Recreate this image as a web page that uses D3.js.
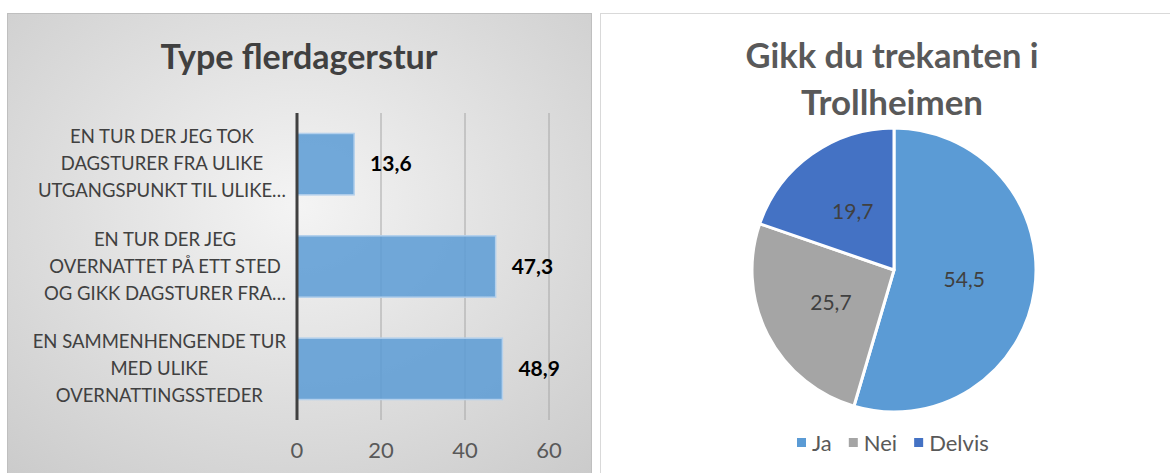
<!DOCTYPE html>
<html>
<head>
<meta charset="utf-8">
<script src="https://cdn.jsdelivr.net/npm/d3@7"></script>
<style>
  body { margin: 0; background: #fff; }
  svg { display: block; font-family: Lato, "Open Sans", sans-serif; }
</style>
</head>
<body>
<div id="chart"></div>
<script>
// bar chart data
const barTitle = 'Type flerdagerstur';
const barCategories = [
    ['EN TUR DER JEG TOK', 'DAGSTURER FRA ULIKE', 'UTGANGSPUNKT TIL ULIKE…'],
    ['EN TUR DER JEG', 'OVERNATTET PÅ ETT STED', 'OG GIKK DAGSTURER FRA…'],
    ['EN SAMMENHENGENDE TUR', 'MED ULIKE', 'OVERNATTINGSSTEDER'],
];
const barValues = [13.6, 47.3, 48.9];
const barTicks = [0, 20, 40, 60];

// pie chart data
const pieTitle = ['Gikk du trekanten i', 'Trollheimen'];
const pieLabels = ['Ja', 'Nei', 'Delvis'];
const pieValues = [54.5, 25.7, 19.7];
const pieColors = ['#5b9bd5', '#a5a5a5', '#4472c4'];

const fmt = v => String(v).replace('.', ',');

let w = 1170, h = 473;
let svg = d3.select('#chart').append('svg')
    .attr('width', w)
    .attr('height', h);

svg.append('rect').attr('width', w).attr('height', h).attr('fill', '#fff');

//#region left panel
let defs = svg.append('defs');
let grad = defs.append('radialGradient')
    .attr('id', 'bg')
    .attr('cx', '50%').attr('cy', '40%').attr('r', '75%');
grad.append('stop').attr('offset', '0%').attr('stop-color', '#f4f4f4');
grad.append('stop').attr('offset', '100%').attr('stop-color', '#cbcbcb');

svg.append('rect')
    .attr('x', 7.5).attr('y', 13.5)
    .attr('width', 584).attr('height', 480)
    .attr('fill', 'url(#bg)')
    .attr('stroke', '#bfbfbf');

svg.append('text')
    .attr('x', 299).attr('y', 69)
    .attr('text-anchor', 'middle')
    .attr('font-size', 34).attr('font-weight', 700)
    .attr('fill', '#404040')
    .attr('textLength', 277).attr('lengthAdjust', 'spacingAndGlyphs')
    .text(barTitle);

const x = d3.scaleLinear().domain([0, 60]).range([297, 549]);
const y = d3.scaleBand()
    .domain(d3.range(barValues.length))
    .range([113, 420])
    .paddingInner(0.4)
    .paddingOuter(0.2);

// gridlines
svg.append('g')
    .selectAll('line')
    .data(barTicks.filter(t => t > 0)).enter()
    .append('line')
    .attr('x1', d => x(d)).attr('x2', d => x(d))
    .attr('y1', 113).attr('y2', 420)
    .attr('stroke', '#a6a6a6')
    .attr('stroke-width', 1);

// bars
svg.append('g')
    .selectAll('rect')
    .data(barValues).enter()
    .append('rect')
    .attr('x', x(0))
    .attr('y', (d, i) => y(i))
    .attr('width', d => x(d) - x(0))
    .attr('height', y.bandwidth())
    .attr('fill', '#5b9bd5')
    .attr('fill-opacity', 0.85)
    .attr('stroke', '#b4d0ec')
    .attr('stroke-width', 1.5);

// axis line at 0
svg.append('line')
    .attr('x1', x(0)).attr('x2', x(0))
    .attr('y1', 113).attr('y2', 420)
    .attr('stroke', '#404040')
    .attr('stroke-width', 3);

// x tick labels
svg.append('g')
    .selectAll('text')
    .data(barTicks).enter()
    .append('text')
    .attr('x', d => x(d))
    .attr('y', 458)
    .attr('text-anchor', 'middle')
    .attr('font-size', 22)
    .attr('fill', '#595959')
    .text(d => d);

// value labels
svg.append('g')
    .selectAll('text')
    .data(barValues).enter()
    .append('text')
    .attr('x', d => x(d) + 16)
    .attr('y', (d, i) => y(i) + y.bandwidth() / 2 + 7)
    .attr('font-size', 21).attr('font-weight', 700)
    .attr('fill', '#000')
    .text(d => fmt(d));

// category labels, lines centred, block right-aligned to the axis
barCategories.forEach((lines, i) => {
    let cy = y(i) + y.bandwidth() / 2;
    let g = svg.append('g');
    let texts = g.selectAll('text')
        .data(lines).enter()
        .append('text')
        .attr('y', (d, k) => cy + (k - 1) * 27 + 6)
        .attr('text-anchor', 'middle')
        .attr('font-size', 18.5)
        .attr('fill', '#404040')
        .text(d => d);
    let maxW = d3.max(texts.nodes(), n => n.getComputedTextLength());
    texts.attr('x', 286 - maxW / 2);
});
//#endregion

//#region right panel
svg.append('rect')
    .attr('x', 600.5).attr('y', 13.5)
    .attr('width', 600).attr('height', 480)
    .attr('fill', '#fff')
    .attr('stroke', '#d9d9d9');

const titleWidths = [293, 182];
svg.append('g')
    .selectAll('text')
    .data(pieTitle).enter()
    .append('text')
    .attr('x', 892)
    .attr('y', (d, i) => 68 + i * 47)
    .attr('text-anchor', 'middle')
    .attr('font-size', 34).attr('font-weight', 700)
    .attr('fill', '#595959')
    .attr('textLength', (d, i) => titleWidths[i])
    .attr('lengthAdjust', 'spacingAndGlyphs')
    .text(d => d);

let cx = 894, cyp = 270, r = 142;
let pie = d3.pie().sort(null).value(d => d);
let arcs = pie(pieValues);
let arc = d3.arc().innerRadius(0).outerRadius(r);
let labelArc = d3.arc().innerRadius(r / 2).outerRadius(r / 2);

let pg = svg.append('g').attr('transform', `translate(${cx}, ${cyp})`);
pg.selectAll('path')
    .data(arcs).enter()
    .append('path')
    .attr('d', arc)
    .attr('fill', (d, i) => pieColors[i])
    .attr('stroke', '#fff')
    .attr('stroke-width', 3)
    .attr('stroke-linejoin', 'round');

pg.selectAll('text')
    .data(arcs).enter()
    .append('text')
    .attr('transform', d => `translate(${labelArc.centroid(d)})`)
    .attr('dy', 7)
    .attr('text-anchor', 'middle')
    .attr('font-size', 21)
    .attr('fill', '#404040')
    .text(d => fmt(d.data));

// legend
let lg = svg.append('g');
let lx = 797;
pieLabels.forEach((name, i) => {
    lg.append('rect')
        .attr('x', lx).attr('y', 438)
        .attr('width', 9).attr('height', 9)
        .attr('fill', pieColors[i]);
    let t = lg.append('text')
        .attr('x', lx + 15).attr('y', 451)
        .attr('font-size', 22)
        .attr('fill', '#595959')
        .text(name);
    lx += 15 + t.node().getComputedTextLength() + 17;
});
//#endregion
</script>
</body>
</html>
